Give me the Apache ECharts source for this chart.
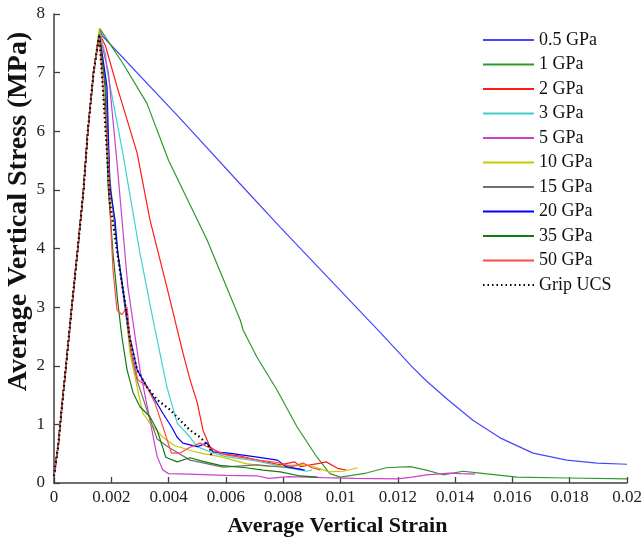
<!DOCTYPE html>
<html>
<head>
<meta charset="utf-8">
<script src="https://cdn.jsdelivr.net/npm/echarts@6/dist/echarts.min.js"></script>
<style>html,body{margin:0;padding:0;background:#fff}#c{width:642px;height:538px}</style>
</head>
<body>
<div id="c"></div>
<script>
const seriesNames = ['0.5 GPa','1 GPa','2 GPa','3 GPa','5 GPa','10 GPa','15 GPa','20 GPa','35 GPa','50 GPa','Grip UCS'];
const xTickLabels = ['0','0.002','0.004','0.006','0.008','0.01','0.012','0.014','0.016','0.018','0.02'];
const yTickLabels = ['0','1','2','3','4','5','6','7','8'];

// shared pre-peak (elastic) branch [strain, stress MPa]
const rise = [[0,0.12],[0.00005,0.3],[0.00015,0.65],[0.00027,1.28],[0.00042,2.0],[0.00062,3.0],[0.00083,4.0],[0.00103,5.0],[0.00118,6.0],[0.00138,7.0]];

const gpa05 = [[0.00160,7.72],[0.0017,7.62],[0.0044,6.22],[0.0065,5.1],[0.0079,4.36],[0.0100,3.28],[0.0114,2.56],[0.0125,1.98],[0.0130,1.74],[0.01375,1.42],[0.01462,1.07],[0.01557,0.77],[0.01672,0.51],[0.0179,0.39],[0.01895,0.34],[0.02,0.32]];
const gpa1 = [[0.00160,7.75],[0.0024,7.16],[0.00324,6.48],[0.004,5.5],[0.00534,4.15],[0.0065,2.78],[0.0066,2.61],[0.00708,2.15],[0.00778,1.59],[0.00848,0.96],[0.00918,0.44],[0.00963,0.16],[0.0100,0.1],[0.0109,0.17],[0.0116,0.26],[0.01243,0.28],[0.0130,0.22],[0.01358,0.14],[0.01428,0.2],[0.01487,0.17],[0.01616,0.1],[0.0179,0.085],[0.02,0.07]];
const gpa2 = [[0.00158,7.68],[0.0018,7.45],[0.0022,6.76],[0.0029,5.63],[0.00335,4.49],[0.00394,3.34],[0.0045,2.22],[0.00475,1.76],[0.005,1.37],[0.0052,0.9],[0.00544,0.62],[0.0058,0.5],[0.0065,0.46],[0.0072,0.38],[0.0079,0.31],[0.0084,0.36],[0.0086,0.28],[0.0093,0.34],[0.0095,0.36],[0.0099,0.25],[0.0102,0.22]];
const gpa3 = [[0.00158,7.68],[0.0018,7.3],[0.00185,7.05],[0.0024,5.63],[0.003,3.92],[0.00346,2.78],[0.00394,1.64],[0.0043,1.02],[0.00475,0.78],[0.005,0.62],[0.0055,0.52],[0.006,0.45],[0.007,0.38],[0.0078,0.3],[0.0083,0.25],[0.0088,0.2],[0.009,0.22]];
const gpa5 = [[0.00158,7.68],[0.0019,7.0],[0.0022,5.46],[0.00258,3.34],[0.003,1.93],[0.00335,1.07],[0.0036,0.45],[0.0038,0.22],[0.004,0.16],[0.0047,0.15],[0.006,0.13],[0.0071,0.12],[0.0075,0.08],[0.0082,0.11],[0.0094,0.09],[0.0105,0.08],[0.012,0.07],[0.0125,0.1],[0.013,0.14],[0.0138,0.17],[0.0142,0.16],[0.0147,0.15]];
const gpa10 = [[0.00158,7.75],[0.0018,6.9],[0.00195,5.05],[0.00223,3.92],[0.00248,3.07],[0.00265,2.22],[0.0029,1.64],[0.0031,1.19],[0.00335,1.02],[0.0038,0.78],[0.0042,0.64],[0.0048,0.55],[0.0052,0.5],[0.0058,0.45],[0.0067,0.33],[0.0075,0.28],[0.0082,0.3],[0.0088,0.31],[0.0093,0.24],[0.0096,0.19],[0.0101,0.2],[0.0106,0.26]];
const gpa15 = [[0.00158,7.65],[0.0018,6.8],[0.00195,5.2],[0.0022,4.0],[0.0025,2.9],[0.0027,2.2],[0.0029,1.75],[0.00328,1.19],[0.0036,0.75],[0.004,0.61],[0.00475,0.39],[0.0059,0.27],[0.0071,0.31],[0.0082,0.26],[0.0086,0.24]];
const gpa20 = [[0.00158,7.65],[0.00185,6.76],[0.00195,5.05],[0.00213,4.49],[0.00223,3.92],[0.00248,3.07],[0.00265,2.49],[0.0029,1.93],[0.0031,1.76],[0.00346,1.47],[0.0038,1.19],[0.0041,0.96],[0.0043,0.78],[0.0045,0.68],[0.005,0.62],[0.00534,0.68],[0.00555,0.53],[0.0061,0.51],[0.0071,0.44],[0.0078,0.39],[0.0081,0.28],[0.00875,0.22]];
const gpa35 = [[0.00158,7.65],[0.00178,6.76],[0.00189,5.05],[0.00206,3.92],[0.00223,3.07],[0.00237,2.49],[0.00255,1.93],[0.00276,1.54],[0.003,1.3],[0.00335,1.13],[0.0036,0.9],[0.0038,0.6],[0.0039,0.44],[0.0043,0.36],[0.00475,0.43],[0.0052,0.37],[0.0058,0.3],[0.0067,0.26],[0.0073,0.22],[0.0079,0.19],[0.0086,0.12],[0.0092,0.1]];
const gpa50 = [[0.00158,7.6],[0.00189,5.63],[0.002,4.2],[0.00206,3.63],[0.0022,2.95],[0.00237,2.87],[0.00255,3.0],[0.0027,2.22],[0.00293,1.76],[0.00324,1.64],[0.00352,1.37],[0.0038,0.96],[0.0041,0.51],[0.0044,0.51],[0.00475,0.61],[0.0051,0.68],[0.0056,0.56],[0.006,0.48],[0.007,0.4],[0.0078,0.35],[0.0083,0.28],[0.0087,0.34],[0.009,0.26],[0.0093,0.22]];
const gripUCS = [[0.00158,7.65],[0.0017,6.76],[0.00185,5.63],[0.00195,4.78],[0.00213,4.2],[0.0023,3.63],[0.00248,3.07],[0.00265,2.44],[0.0029,1.93],[0.00324,1.64],[0.0036,1.42],[0.00405,1.25],[0.0044,1.07],[0.00475,0.9],[0.0051,0.78],[0.00544,0.61],[0.0055,0.44]];

const curves = [gpa05,gpa1,gpa2,gpa3,gpa5,gpa10,gpa15,gpa20,gpa35,gpa50,gripUCS];
const colors = ['#4646ff','#2e9a2e','#ff1a1a','#3fcfcf','#cc3fcc','#c8c800','#707070','#0000ff','#137a13','#ff4a4a','#000000'];
const font = "'Liberation Serif','Times New Roman',serif";

const series = curves.map((c,i)=>({
  name: seriesNames[i],
  type: 'line',
  data: rise.concat(c),
  symbol: 'none',
  showSymbol: false,
  smooth: false,
  color: colors[i],
  lineStyle: i===10 ? {color:'#000', width:2.2, type:[1.5,3]} : {color: colors[i], width: 1.2},
  itemStyle: {color: colors[i]},
  z: i===10 ? 5 : 2,
  animation: false
}));

const chart = echarts.init(document.getElementById('c'), null, {renderer:'canvas'});
chart.setOption({
  animation: false,
  backgroundColor: '#fff',
  grid: {left: 54, right: 15, top: 14, bottom: 55, containLabel: false, outerBoundsMode: 'none'},
  legend: {
    show: true,
    orient: 'vertical', left: 482, top: 31, padding: 0,
    itemWidth: 51, itemHeight: 14, itemGap: 6.5,
    itemStyle: {color: 'rgba(0,0,0,0)', borderWidth: 0, opacity: 0},
    textStyle: {fontFamily: font, fontSize: 18, color: '#111', lineHeight: 18},
    data: seriesNames
  },
  xAxis: {
    type: 'value', min: 0, max: 0.02, interval: 0.002,
    name: 'Average Vertical Strain', nameLocation: 'middle', nameGap: 32, nameMoveOverlap: false,
    nameTextStyle: {fontFamily: font, fontSize: 22, fontWeight: 'bold', color: '#111', padding: [0,6,0,0]},
    axisLine: {show: true, lineStyle: {color: '#404040', width: 1.5}},
    axisTick: {show: true, inside: true, length: 6, lineStyle: {color: '#404040', width: 1.3}},
    axisLabel: {fontFamily: font, fontSize: 17, color: '#222', margin: 6,
      formatter: (v)=> xTickLabels[Math.round(v/0.002)]},
    splitLine: {show: false}
  },
  yAxis: {
    type: 'value', min: 0, max: 8, interval: 1,
    name: 'Average Vertical Stress (MPa)', nameLocation: 'middle', nameGap: 21, nameMoveOverlap: false,
    nameTextStyle: {fontFamily: font, fontSize: 28, fontWeight: 'bold', color: '#111', padding: [0,0,0,74]},
    axisLine: {show: true, lineStyle: {color: '#404040', width: 1.5}},
    axisTick: {show: true, inside: true, length: 6, lineStyle: {color: '#404040', width: 1.3}},
    axisLabel: {fontFamily: font, fontSize: 17, color: '#222', margin: 9,
      formatter: (v)=> yTickLabels[Math.round(v)]},
    splitLine: {show: false}
  },
  series: series
});
</script>
</body>
</html>
